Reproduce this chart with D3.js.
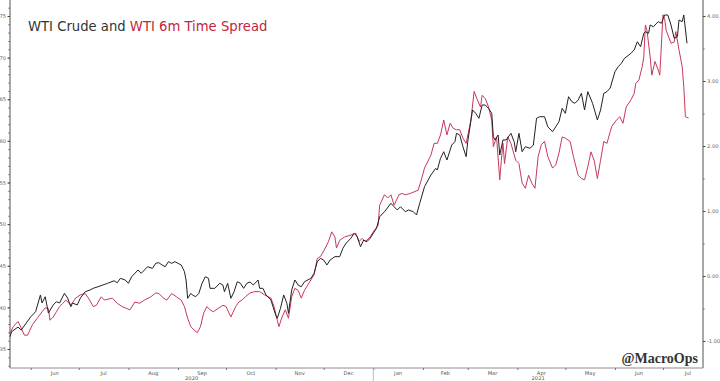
<!DOCTYPE html>
<html>
<head>
<meta charset="utf-8">
<script src="https://cdn.jsdelivr.net/npm/d3@7"></script>
<style>
  body { margin: 0; background: #fff; }
  svg { display: block; }
</style>
</head>
<body>
<div id="chart"></div>
<script>
const wtiCrude = [
  ["2020-05-19",36.48],["2020-05-20",37.08],["2020-05-24",37.64],["2020-05-26",37.28],["2020-06-01",38.88],["2020-06-04",39.48],
  ["2020-06-07",41.49],["2020-06-08",40.53],["2020-06-10",41.28],["2020-06-12",39.32],["2020-06-15",40.29],["2020-06-17",40.68],
  ["2020-06-19",40.53],["2020-06-22",41.69],["2020-06-24",41.13],["2020-06-26",40.08],["2020-06-27",40.53],["2020-06-30",40.29],
  ["2020-07-02",41.13],["2020-07-05",41.88],["2020-07-08",42.09],["2020-07-10",42.29],["2020-07-13",42.48],["2020-07-16",42.69],
  ["2020-07-19",42.89],["2020-07-23",43.20],["2020-07-25",42.96],["2020-07-27",43.49],["2020-07-30",43.29],["2020-08-01",42.89],
  ["2020-08-03",43.68],["2020-08-07",44.49],["2020-08-09",44.09],["2020-08-11",44.49],["2020-08-13",44.89],["2020-08-16",44.69],
  ["2020-08-18",45.29],["2020-08-20",45.37],["2020-08-22",45.09],["2020-08-24",44.89],["2020-08-26",45.49],["2020-08-28",45.29],
  ["2020-08-30",45.49],["2020-09-01",45.29],["2020-09-03",45.09],["2020-09-05",44.29],["2020-09-06",43.29],["2020-09-07",41.09],
  ["2020-09-09",41.69],["2020-09-10",41.49],["2020-09-12",41.28],["2020-09-14",41.69],["2020-09-16",42.89],["2020-09-18",43.68],
  ["2020-09-20",43.49],["2020-09-21",42.29],["2020-09-24",42.29],["2020-09-27",42.89],["2020-09-29",42.69],["2020-09-30",41.88],
  ["2020-10-02",42.89],["2020-10-04",41.09],["2020-10-06",41.88],["2020-10-08",43.08],["2020-10-10",42.89],["2020-10-12",42.29],
  ["2020-10-14",42.89],["2020-10-16",43.05],["2020-10-18",42.69],["2020-10-21",43.29],["2020-10-22",42.29],["2020-10-24",42.29],
  ["2020-10-26",41.49],["2020-10-29",40.89],["2020-11-01",39.08],["2020-11-02",38.69],["2020-11-04",39.89],["2020-11-06",41.49],
  ["2020-11-08",40.49],["2020-11-09",39.29],["2020-11-11",42.09],["2020-11-13",43.29],["2020-11-15",42.69],["2020-11-17",42.48],
  ["2020-11-19",43.08],["2020-11-23",43.49],["2020-11-25",44.09],["2020-11-27",45.49],["2020-11-29",45.89],["2020-12-01",45.69],
  ["2020-12-03",45.09],["2020-12-05",45.69],["2020-12-08",46.09],["2020-12-11",46.09],["2020-12-13",47.10],["2020-12-15",47.70],
  ["2020-12-18",48.30],["2020-12-20",48.90],["2020-12-22",48.49],["2020-12-24",47.29],["2020-12-26",48.09],["2020-12-28",47.89],
  ["2020-12-30",48.30],["2021-01-03",49.50],["2021-01-05",50.89],["2021-01-08",51.49],["2021-01-12",52.50],["2021-01-14",52.09],
  ["2021-01-16",51.70],["2021-01-18",52.09],["2021-01-21",51.49],["2021-01-23",51.70],["2021-01-26",51.49],["2021-01-28",51.10],
  ["2021-01-30",52.50],["2021-02-02",54.50],["2021-02-06",55.90],["2021-02-09",56.71],["2021-02-10",56.50],["2021-02-12",57.91],
  ["2021-02-14",58.70],["2021-02-16",57.70],["2021-02-19",59.50],["2021-02-21",59.90],["2021-02-22",60.91],["2021-02-24",60.71],
  ["2021-02-26",59.30],["2021-02-28",58.10],["2021-03-01",59.90],["2021-03-04",63.71],["2021-03-06",63.31],["2021-03-08",62.71],
  ["2021-03-10",64.31],["2021-03-12",64.31],["2021-03-14",63.91],["2021-03-16",63.31],["2021-03-17",60.50],["2021-03-18",60.11],
  ["2021-03-20",60.71],["2021-03-21",58.30],["2021-03-23",60.11],["2021-03-25",60.11],["2021-03-28",60.91],["2021-03-30",59.90],
  ["2021-03-31",58.70],["2021-04-02",60.91],["2021-04-04",58.70],["2021-04-06",59.30],["2021-04-09",59.11],["2021-04-11",59.50],
  ["2021-04-13",62.71],["2021-04-15",62.90],["2021-04-18",62.90],["2021-04-20",61.70],["2021-04-23",61.10],["2021-04-25",61.70],
  ["2021-04-27",62.30],["2021-04-29",63.91],["2021-05-01",63.31],["2021-05-03",65.31],["2021-05-05",64.71],["2021-05-07",64.51],
  ["2021-05-09",64.91],["2021-05-11",65.71],["2021-05-13",63.71],["2021-05-15",65.91],["2021-05-18",64.51],["2021-05-21",62.51],
  ["2021-05-23",63.71],["2021-05-25",65.71],["2021-05-27",65.91],["2021-05-29",66.35],["2021-06-01",68.31],["2021-06-03",68.91],
  ["2021-06-05",69.32],["2021-06-07",69.92],["2021-06-11",70.52],["2021-06-13",70.92],["2021-06-15",71.91],["2021-06-17",71.31],
  ["2021-06-19",72.92],["2021-06-20",73.11],["2021-06-22",72.92],["2021-06-23",73.92],["2021-06-25",73.71],["2021-06-28",74.32],
  ["2021-06-30",74.12],["2021-07-02",75.12],["2021-07-04",75.12],["2021-07-06",73.92],["2021-07-08",72.32],["2021-07-10",72.51],
  ["2021-07-11",74.52],["2021-07-13",74.32],["2021-07-14",75.12],["2021-07-16",71.72]
];

const timeSpread = [
  ["2020-05-19",-0.88],["2020-05-21",-0.78],["2020-05-24",-0.70],["2020-05-26",-0.80],["2020-05-28",-0.91],["2020-05-30",-0.91],
  ["2020-06-02",-0.75],["2020-06-05",-0.65],["2020-06-08",-0.55],["2020-06-10",-0.49],["2020-06-12",-0.50],["2020-06-13",-0.68],
  ["2020-06-15",-0.63],["2020-06-17",-0.55],["2020-06-19",-0.47],["2020-06-21",-0.42],["2020-06-23",-0.37],["2020-06-26",-0.45],
  ["2020-06-29",-0.34],["2020-07-02",-0.29],["2020-07-05",-0.27],["2020-07-07",-0.34],["2020-07-10",-0.47],["2020-07-12",-0.45],
  ["2020-07-15",-0.32],["2020-07-17",-0.37],["2020-07-22",-0.34],["2020-07-25",-0.42],["2020-07-28",-0.47],["2020-07-31",-0.50],
  ["2020-08-02",-0.52],["2020-08-05",-0.40],["2020-08-08",-0.42],["2020-08-11",-0.37],["2020-08-15",-0.32],["2020-08-18",-0.26],
  ["2020-08-20",-0.27],["2020-08-23",-0.34],["2020-08-25",-0.37],["2020-08-28",-0.27],["2020-08-31",-0.32],["2020-09-03",-0.37],
  ["2020-09-05",-0.47],["2020-09-07",-0.65],["2020-09-09",-0.78],["2020-09-11",-0.83],["2020-09-13",-0.87],["2020-09-15",-0.78],
  ["2020-09-17",-0.57],["2020-09-19",-0.47],["2020-09-21",-0.52],["2020-09-23",-0.55],["2020-09-26",-0.50],["2020-09-29",-0.45],
  ["2020-10-01",-0.47],["2020-10-04",-0.63],["2020-10-07",-0.47],["2020-10-09",-0.40],["2020-10-11",-0.37],["2020-10-13",-0.32],
  ["2020-10-16",-0.26],["2020-10-19",-0.24],["2020-10-22",-0.24],["2020-10-25",-0.29],["2020-10-29",-0.34],["2020-10-31",-0.47],
  ["2020-11-02",-0.68],["2020-11-03",-0.78],["2020-11-05",-0.63],["2020-11-07",-0.52],["2020-11-09",-0.65],["2020-11-11",-0.32],
  ["2020-11-13",-0.19],["2020-11-15",-0.22],["2020-11-17",-0.34],["2020-11-19",-0.22],["2020-11-21",-0.14],["2020-11-25",0.02],
  ["2020-11-27",0.27],["2020-11-29",0.30],["2020-12-02",0.43],["2020-12-04",0.53],["2020-12-06",0.68],["2020-12-08",0.60],
  ["2020-12-09",0.43],["2020-12-11",0.55],["2020-12-14",0.60],["2020-12-18",0.63],["2020-12-21",0.66],["2020-12-23",0.53],
  ["2020-12-25",0.58],["2020-12-27",0.53],["2020-12-30",0.60],["2021-01-01",0.68],["2021-01-04",0.78],["2021-01-05",1.09],
  ["2021-01-07",1.20],["2021-01-08",1.25],["2021-01-10",1.20],["2021-01-12",1.25],["2021-01-14",1.09],["2021-01-17",1.25],
  ["2021-01-19",1.27],["2021-01-21",1.25],["2021-01-24",1.27],["2021-01-27",1.30],["2021-01-29",1.32],["2021-01-31",1.48],
  ["2021-02-02",1.66],["2021-02-06",1.86],["2021-02-08",2.04],["2021-02-10",2.04],["2021-02-12",2.17],["2021-02-14",2.40],
  ["2021-02-16",2.17],["2021-02-18",2.35],["2021-02-20",2.27],["2021-02-22",2.25],["2021-02-24",2.25],["2021-02-26",2.12],
  ["2021-02-28",2.04],["2021-03-03",2.40],["2021-03-05",2.84],["2021-03-07",2.71],["2021-03-09",2.60],["2021-03-10",2.78],
  ["2021-03-12",2.73],["2021-03-14",2.60],["2021-03-16",2.40],["2021-03-17",1.99],["2021-03-19",2.14],["2021-03-21",1.48],
  ["2021-03-22",1.78],["2021-03-23",2.04],["2021-03-24",1.73],["2021-03-26",2.14],["2021-03-28",2.04],["2021-03-31",1.78],
  ["2021-04-02",1.73],["2021-04-04",1.43],["2021-04-06",1.35],["2021-04-08",1.55],["2021-04-10",1.43],["2021-04-12",1.35],
  ["2021-04-14",1.84],["2021-04-16",2.02],["2021-04-18",2.07],["2021-04-20",1.84],["2021-04-23",1.66],["2021-04-25",1.71],
  ["2021-04-27",1.89],["2021-04-29",2.14],["2021-05-01",2.12],["2021-05-04",2.07],["2021-05-06",1.84],["2021-05-09",1.55],
  ["2021-05-11",1.50],["2021-05-13",1.48],["2021-05-15",1.68],["2021-05-17",1.91],["2021-05-19",1.78],["2021-05-21",1.50],
  ["2021-05-23",1.78],["2021-05-25",2.07],["2021-05-27",2.04],["2021-05-29",2.22],["2021-05-30",2.30],["2021-06-02",2.40],
  ["2021-06-04",2.45],["2021-06-06",2.35],["2021-06-08",2.60],["2021-06-11",2.71],["2021-06-13",2.81],["2021-06-14",2.96],
  ["2021-06-16",3.02],["2021-06-18",3.22],["2021-06-19",3.37],["2021-06-20",3.86],["2021-06-21",3.78],["2021-06-23",3.37],
  ["2021-06-24",3.09],["2021-06-26",3.30],["2021-06-28",3.17],["2021-06-29",3.09],["2021-07-01",4.02],["2021-07-02",3.96],
  ["2021-07-03",3.78],["2021-07-06",3.58],["2021-07-08",3.60],["2021-07-09",3.76],["2021-07-11",3.48],["2021-07-13",3.22],
  ["2021-07-14",2.91],["2021-07-15",2.45],["2021-07-17",2.43]
];

const leftTicks = [35, 40, 45, 50, 55, 60, 65, 70, 75];
const rightTicks = [-1, 0, 1, 2, 3, 4];
const monthStarts = ["2020-06-01","2020-07-01","2020-08-01","2020-09-01","2020-10-01","2020-11-01","2020-12-01",
  "2021-01-01","2021-02-01","2021-03-01","2021-04-01","2021-05-01","2021-06-01","2021-07-01","2021-08-01"];
const monthLabels = ["Jun","Jul","Aug","Sep","Oct","Nov","Dec","Jan","Feb","Mar","Apr","May","Jun","Jul"];
const yearLabels = ["2020", "2021"];

const width = 720, height = 381;
const left = 10, right = 703, bottom = 368;
const parse = d3.timeParse("%Y-%m-%d");
const startDate = parse("2020-05-19"), endDate = parse("2021-07-26"), yearBreak = parse("2021-01-01");

const svg = d3.select("#chart").append("svg")
    .attr("width", width)
    .attr("height", height)
    .attr("viewBox", `0 0 ${width} ${height}`);

const x = d3.scaleTime().domain([startDate, endDate]).range([left, right]);
const yL = d3.scaleLinear().domain([32.72, 76.92]).range([bottom, 0]);
const yR = d3.scaleLinear().domain([-1.415, 4.246]).range([bottom, 0]);

const tickFont = "'DejaVu Sans', sans-serif";

// left axis
const gL = svg.append("g").attr("transform", `translate(${left},0)`);
gL.call(d3.axisLeft(yL).tickValues(d3.range(33, 77, 1)).tickSize(1.5).tickFormat(""));
gL.call(g => g.append("g").call(d3.axisLeft(yL).tickValues(leftTicks).tickSize(2.5).tickPadding(1.5).tickFormat(d3.format("d"))));
gL.selectAll(".domain").attr("stroke", "#8c8c8c").attr("d", `M0,0V${bottom}`);
gL.selectAll("line").attr("stroke", "#444");
gL.selectAll("text").attr("font-size", 5.2).attr("font-family", tickFont).attr("fill", "#666");

// right axis
const gR = svg.append("g").attr("transform", `translate(${right},0)`);
gR.call(d3.axisRight(yR).tickValues(d3.range(-1, 4.25, 0.5)).tickSize(1.5).tickFormat(""));
gR.call(g => g.append("g").call(d3.axisRight(yR).tickValues(rightTicks).tickSize(2.5).tickPadding(1.5).tickFormat(d => d.toFixed(2))));
gR.selectAll(".domain").attr("stroke", "#8c8c8c").attr("d", `M0,0V${bottom}`);
gR.selectAll("line").attr("stroke", "#444");
gR.selectAll("text").attr("font-size", 5.2).attr("font-family", tickFont).attr("fill", "#666");

// bottom axis
const monthDates = monthStarts.map(parse);
const gB = svg.append("g").attr("transform", `translate(0,${bottom})`);
gB.call(d3.axisBottom(x).tickValues(monthDates.filter(d => d < endDate)).tickSize(2).tickFormat(""));
gB.selectAll(".domain").attr("stroke", "#8c8c8c").attr("d", `M${left},0H${right}`);
gB.selectAll("line").attr("stroke", "#777");

gB.append("line")
    .attr("x1", x(yearBreak)).attr("x2", x(yearBreak))
    .attr("y1", 0).attr("y2", height - bottom)
    .attr("stroke", "#aaa").attr("stroke-width", 0.8);

gB.selectAll("text.month")
    .data(monthLabels)
    .join("text")
    .attr("class", "month")
    .attr("x", (d, i) => {
        const a = monthDates[i], b = monthDates[i + 1];
        return x(new Date((+a + +b) / 2));
    })
    .attr("y", 6.5)
    .attr("text-anchor", "middle")
    .attr("font-size", 5.2)
    .attr("font-family", tickFont)
    .attr("fill", "#555")
    .text(d => d);

const yearSpans = [[startDate, yearBreak], [yearBreak, endDate]];
gB.selectAll("text.year")
    .data(yearLabels)
    .join("text")
    .attr("class", "year")
    .attr("x", (d, i) => x(new Date((+yearSpans[i][0] + +yearSpans[i][1]) / 2)))
    .attr("y", 12)
    .attr("text-anchor", "middle")
    .attr("font-size", 5.2)
    .attr("font-family", tickFont)
    .attr("fill", "#555")
    .text(d => d);

// lines
const spreadLine = d3.line().x(d => x(parse(d[0]))).y(d => yR(d[1]));
const wtiLine = d3.line().x(d => x(parse(d[0]))).y(d => yL(d[1]));

svg.append("path")
    .datum(timeSpread)
    .attr("fill", "none")
    .attr("stroke", "#c8385a")
    .attr("stroke-width", 1)
    .attr("stroke-linejoin", "round")
    .attr("d", spreadLine);

svg.append("path")
    .datum(wtiCrude)
    .attr("fill", "none")
    .attr("stroke", "#222")
    .attr("stroke-width", 1)
    .attr("stroke-linejoin", "round")
    .attr("d", wtiLine);

// title
const title = svg.append("text")
    .attr("x", 28).attr("y", 31)
    .attr("font-size", 13.2)
    .attr("font-family", "'DejaVu Sans', sans-serif");
title.append("tspan").attr("fill", "#333").text("WTI Crude and ");
title.append("tspan").attr("fill", "#c0263f").text("WTI 6m Time Spread");

// watermark
svg.append("text")
    .attr("x", 698).attr("y", 363)
    .attr("text-anchor", "end")
    .attr("font-size", 14)
    .attr("font-weight", "bold")
    .attr("font-family", "'Liberation Serif', serif")
    .attr("fill", "#333")
    .text("@MacroOps");
</script>
</body>
</html>
